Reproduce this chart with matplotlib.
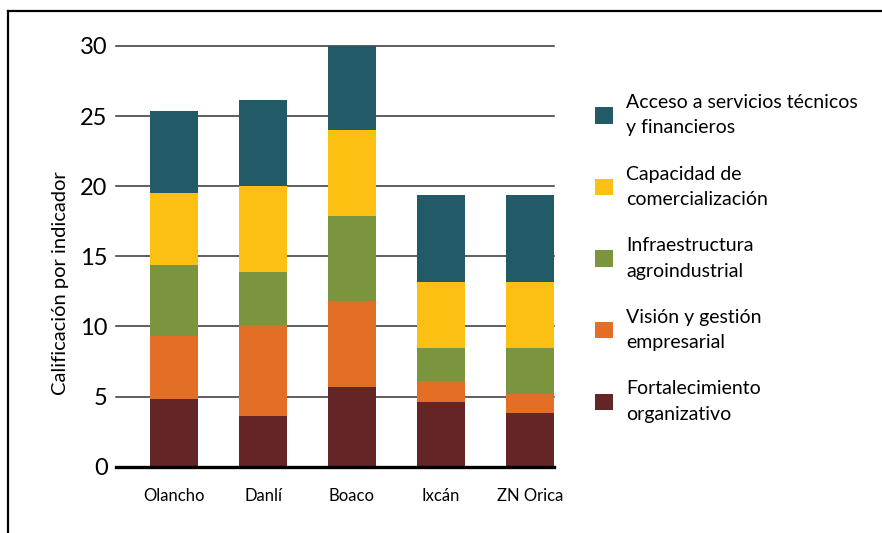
import matplotlib
matplotlib.use("Agg")
import matplotlib.pyplot as plt
from matplotlib.patches import Patch
from matplotlib.lines import Line2D


# =====================================================
# DATA
# =====================================================

sites = ["Olancho", "Danlí", "Boaco", "Ixcán", "ZN Orica"]

fortalecimiento = [4.85, 3.6, 5.7, 4.6, 3.8]
vision = [4.5, 6.5, 6.1, 1.5, 1.4]
infraestructura = [5.05, 3.8, 6.1, 2.4, 3.3]
capacidad = [5.1, 6.1, 6.1, 4.7, 4.7]
acceso = [5.9, 6.14, 6.0, 6.2, 6.2]

series_labels = [
    "Fortalecimiento\norganizativo",
    "Visión y gestión\nempresarial",
    "Infraestructura\nagroindustrial",
    "Capacidad de\ncomercialización",
    "Acceso a servicios técnicos\ny financieros",
]

series_colors = ["#632526", "#E36E25", "#7A953D", "#FCC012", "#235A67"]

y_ticks = [0, 5, 10, 15, 20, 25, 30]


# =====================================================
# FIGURE
# =====================================================

plt.rcParams["font.family"] = ["Lato", "DejaVu Sans"]

fig = plt.figure(figsize=(8.82, 5.33), dpi=100)
ax = fig.add_axes([116 / 882, 1 - 466.7 / 533, (554 - 116) / 882, (466.7 - 46) / 533])

positions = list(range(len(sites)))
bottom = [0.0] * len(sites)

all_series = [fortalecimiento, vision, infraestructura, capacidad, acceso]

for values, color, label in zip(all_series, series_colors, series_labels):
    ax.bar(
        positions,
        values,
        bottom=bottom,
        width=0.54,
        color=color,
        label=label,
        zorder=2
    )
    bottom = [b + v for b, v in zip(bottom, values)]

ax.set_xlim(-0.652, 4.27)
ax.set_ylim(0, 30)

# gridlines
for y in y_ticks[1:]:
    ax.axhline(y, color="#333333", linewidth=1.1, zorder=1, clip_on=False)

ax.axhline(0, color="black", linewidth=2.4, zorder=3, clip_on=False)

for side in ["top", "right", "left", "bottom"]:
    ax.spines[side].set_visible(False)

ax.set_yticks(y_ticks)
ax.set_yticklabels([str(v) for v in y_ticks], fontsize=17)
ax.tick_params(axis="y", length=0, pad=6)

ax.set_xticks(positions)
ax.set_xticklabels(sites, fontsize=12)
ax.tick_params(axis="x", length=0, pad=15)

ax.set_ylabel("Calificación por indicador", fontsize=14.5)
ax.yaxis.set_label_coords(-0.108, 0.437)


# =====================================================
# LEGEND
# =====================================================

handles = [
    Patch(facecolor=c, edgecolor="none")
    for c in series_colors
][::-1]

leg = fig.legend(
    handles,
    series_labels[::-1],
    loc="upper left",
    bbox_to_anchor=(595 / 882, 1 - 94 / 533),
    frameon=False,
    fontsize=14,
    handlelength=0.92,
    handleheight=0.92,
    handletextpad=0.68,
    labelspacing=1.5,
    borderpad=0,
    borderaxespad=0,
)

for t in leg.get_texts():
    t.set_linespacing(1.6)


# =====================================================
# BORDER
# =====================================================

fig.add_artist(Line2D([8 / 882, 1.0], [1 - 11 / 533, 1 - 11 / 533],
                      color="black", linewidth=1.6))
fig.add_artist(Line2D([8 / 882, 8 / 882], [0.0, 1 - 11 / 533],
                      color="black", linewidth=1.6))

fig.savefig("out.png", dpi=100)
